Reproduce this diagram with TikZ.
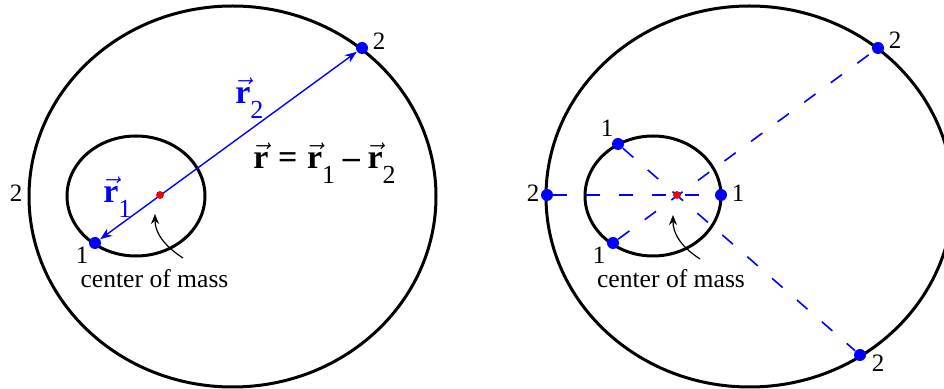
\documentclass[tikz,border=0pt]{standalone}
\usepackage{amsmath}
\usepackage{fontspec}
\setmainfont{Liberation Serif}
\usetikzlibrary{arrows.meta}

\newcommand{\rvec}{\vec{\textbf{r}}}
\newcommand{\rsub}[1]{\raisebox{-7.5pt}{\fontsize{13}{13}\selectfont\mdseries #1}}

\begin{document}
\begin{tikzpicture}[x=0.5pt, y=-0.5pt,
  orbit/.style={draw, line width=1.5pt},
  mass/.style={circle, fill=blue, inner sep=0pt, minimum size=6pt},
  cmdot/.style={circle, fill=red, draw=red!70!black, line width=0.2pt,
    inner sep=0pt, minimum size=3.6pt},
  num/.style={inner sep=0pt, font=\fontsize{12.5}{14}\selectfont},
  vlabel/.style={inner sep=0pt, anchor=base west,
    font=\fontsize{17}{20}\selectfont},
  rline/.style={{Stealth[length=6pt,width=4.5pt]}-{Stealth[length=6pt,width=4.5pt]},
    blue, line width=0.7pt},
  dline/.style={blue, line width=0.8pt, dash pattern=on 7pt off 9.5pt},
  cmarrow/.style={-{Stealth[length=5pt,width=4pt]}, line width=0.6pt}
]
\useasboundingbox (0,0) rectangle (944,389);

% left: the relative coordinate
\draw[orbit] (232.5,196.5) ellipse [x radius=203.5, y radius=190.5];
\draw[orbit] (136,196) ellipse [x radius=69, y radius=60];

\node[mass] (m1) at (95,243) {};
\node[mass] (m2) at (362,48) {};
\draw[rline] (m1) -- (m2);
\node[cmdot] (cmL) at (160,195) {};

\node[num] (n1) at (82,255) {1};
\node[num] (n2) at (379,41) {2};
\node[num] (n2w) at (16,193) {2};

\node[vlabel, blue] (r1) at (103,203) {$\rvec$\rsub{1}};
\node[vlabel, blue] (r2) at (235,104) {$\rvec$\rsub{2}};
\node[vlabel] (eq) at (253,169)
  {$\rvec\mathrel{\textbf{=}}\rvec\rsub{1}\mathbin{\textbf{--}}\rvec\rsub{2}$};

\coordinate (cL) at (183,258);
\coordinate (tL) at (155,214);
\draw[cmarrow] (cL) .. controls (163,245) and (155,232) .. (tL);
\node[inner sep=0pt, anchor=base, font=\fontsize{12.8}{14}\selectfont]
  (comL) at (154.5,288) {center of mass};

% right: several positions of the two masses
\draw[orbit] (749.5,196.5) ellipse [x radius=203.5, y radius=190.5];
\draw[orbit] (653,196) ellipse [x radius=68, y radius=60];

\foreach \nm/\x/\y/\t/\lx/\ly in {
  pE/721/195/1/738/193, pN/618/144/1/607/128, pS/613/243/1/599/255,
  qW/547/195/2/533/193, qN/878/48/2/895/40, qS/860/355/2/878/363} {
  \node[mass] (\nm) at (\x,\y) {};
  \node[num] (l\nm) at (\lx,\ly) {\t};
}

\draw[dline] (qW) -- (pE);
\draw[dline] (pN) -- (qS);
\draw[dline] (pS) -- (qN);
\node[cmdot] (cmR) at (677,195) {};

\coordinate (cR) at (700,259);
\coordinate (tR) at (673,215);
\draw[cmarrow] (cR) .. controls (680,246) and (673,233) .. (tR);
\node[inner sep=0pt, anchor=base, font=\fontsize{12.8}{14}\selectfont]
  (comR) at (671,288) {center of mass};

\end{tikzpicture}
\end{document}
